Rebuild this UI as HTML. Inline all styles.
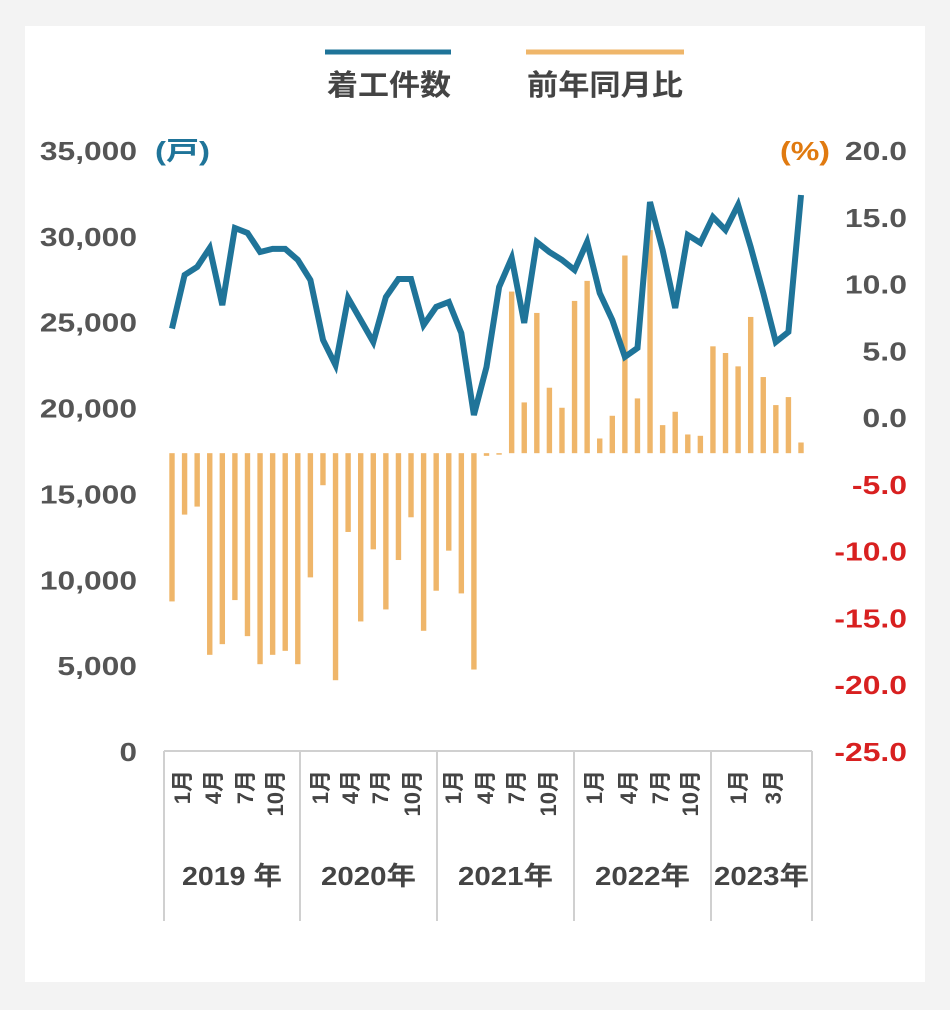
<!DOCTYPE html>
<html><head><meta charset="utf-8"><style>
html,body{margin:0;padding:0;background:#f3f3f3;}
svg{display:block;font-family:"Liberation Sans","Noto Sans CJK JP",sans-serif;font-weight:bold;}
</style></head><body>
<svg id="chart" width="950" height="1010" viewBox="0 0 950 1010" xmlns="http://www.w3.org/2000/svg">
<rect x="0" y="0" width="950" height="1010" fill="#f3f3f3"/>
<rect x="25" y="26" width="900" height="956" fill="#ffffff"/>
<g>
  <g>
    <line x1="325" y1="52" x2="451" y2="52" stroke="#1f7499" stroke-width="5"/>
    <text x="389" y="95" text-anchor="middle" font-size="29" fill="#444" textLength="124" lengthAdjust="spacingAndGlyphs">着工件数</text>
  </g>
  <g>
    <line x1="526" y1="52" x2="684" y2="52" stroke="#efb66a" stroke-width="5"/>
    <text x="605" y="95" text-anchor="middle" font-size="29" fill="#444" textLength="156" lengthAdjust="spacingAndGlyphs">前年同月比</text>
  </g>
</g>
<text x="155" y="160" font-size="26" fill="#1f7499" textLength="55" lengthAdjust="spacingAndGlyphs">(戸)</text>
<text x="780" y="160" font-size="26" fill="#e07a10" textLength="50" lengthAdjust="spacingAndGlyphs">(%)</text>
<g id="leftTicks"></g>
<g id="rightTicks"></g>
<g id="xaxis"></g>
<g id="bars"></g>
<g id="lineg"></g>
</svg>
<script>
const leftTickValues=[0,5000,10000,15000,20000,25000,30000,35000];
const leftTickLabels=["0","5,000","10,000","15,000","20,000","25,000","30,000","35,000"];
const rightTickValues=[20,15,10,5,0,-5,-10,-15,-20,-25];
const rightTickLabels=["20.0","15.0","10.0","5.0","0.0","-5.0","-10.0","-15.0","-20.0","-25.0"];
const years=["2019 年","2020年","2021年","2022年","2023年"];
const monthLabels=[["1月","4月","7月","10月"],["1月","4月","7月","10月"],["1月","4月","7月","10月"],["1月","4月","7月","10月"],["1月","3月"]];
const starts=[24600,27720,28190,29290,25970,30460,30170,29060,29240,29240,28600,27430,23940,22480,26380,25100,23820,26440,27490,27490,24810,25860,26150,24340,19570,22360,27020,28710,24930,29640,29060,28600,28010,29640,26670,25100,22950,23470,31970,29180,25800,30050,29590,31100,30340,31800,29350,26670,23820,24400,32380];
const yoy=[-13.8,-7.3,-6.7,-17.8,-17.0,-13.7,-16.4,-18.5,-17.8,-17.5,-18.5,-12.0,-5.1,-19.7,-8.6,-15.3,-9.9,-14.4,-10.7,-7.5,-16.0,-13.0,-10.0,-13.2,-18.9,-2.9,-2.7,9.4,1.1,7.8,2.2,0.7,8.7,10.2,-1.6,0.1,12.1,1.4,14.0,-0.6,0.4,-1.3,-1.4,5.3,4.8,3.8,7.5,3.0,0.9,1.5,-1.9];
const barBase=-2.7;

const NS="http://www.w3.org/2000/svg";
function mk(tag,attrs,parent,txt){const e=document.createElementNS(NS,tag);for(const k in attrs)e.setAttribute(k,attrs[k]);if(txt!==undefined)e.textContent=txt;parent.appendChild(e);return e;}
const yL=v=>751-(v/35000)*601;
const yR=v=>150+(20-v)*(601/45);
const xI=i=>172+i*12.58;
const wid=(s,w,dot)=>{let n=0;for(const c of s)n+=(c==='.'||c===',')?dot:(c==='-'?0.6:1);return n*w;};

const lt=document.getElementById('leftTicks');
leftTickValues.forEach((v,k)=>{
  const s=leftTickLabels[k];
  const t=mk('text',{x:137,y:yL(v)+10,'text-anchor':'end','font-size':26,fill:'#555',textLength:wid(s,17.5,0.55).toFixed(1),lengthAdjust:'spacingAndGlyphs'},lt,s);
  
  
});
const rt=document.getElementById('rightTicks');
rightTickValues.forEach((v,k)=>{
  const s=rightTickLabels[k];
  const t=mk('text',{x:907,y:yR(v)+10,'text-anchor':'end','font-size':26,fill:v<0?'#d82020':'#555',textLength:wid(s,17.5,0.55).toFixed(1),lengthAdjust:'spacingAndGlyphs'},rt,s);
  
  
});

const xa=document.getElementById('xaxis');
const seps=[164,300,437,574,711,812];
const ax=mk('line',{x1:164,y1:751,x2:812,y2:751,stroke:'#d0d0d0','stroke-width':2},xa);


seps.forEach(s=>{
  const l=mk('line',{x1:s,y1:751,x2:s,y2:921,stroke:'#d0d0d0','stroke-width':2},xa);
  
  
});
const monthOffsets=[[18,49,81,111],[20,50,80,112],[16,48,79,111],[20,54,86,116],[27,62]];
years.forEach((y,k)=>{
  const c=(seps[k]+seps[k+1])/2;
  const t=mk('text',{x:c,y:885,'text-anchor':'middle','font-size':26,fill:'#444',textLength:(k===0?100:95),lengthAdjust:'spacingAndGlyphs'},xa,y);
  
  
  monthLabels[k].forEach((m,j)=>{
    const mx=seps[k]+monthOffsets[k][j]+8;
    const tm=mk('text',{x:mx,y:770,'text-anchor':'end','font-size':22,fill:'#444',transform:`rotate(-90 ${mx} 770)`},xa,m);
    
    
  });
});

const bg=document.getElementById('bars');
yoy.forEach((v,i)=>{
  const y0=yR(barBase),y1=yR(v);
  const top=Math.min(y0,y1),h=Math.max(Math.abs(y1-y0),1.5);
  const r=mk('rect',{x:xI(i)-2.7,y:top,width:5.4,height:h,fill:'#efb66a'},bg);
  
  
});

const lg=document.getElementById('lineg');
const pts=starts.map((v,i)=>xI(i).toFixed(1)+','+yL(v).toFixed(1)).join(' ');
const pl=mk('polyline',{points:pts,fill:'none',stroke:'#1f7499','stroke-width':6,'stroke-linejoin':'miter','stroke-linecap':'butt'},lg);


</script>
</body></html>
